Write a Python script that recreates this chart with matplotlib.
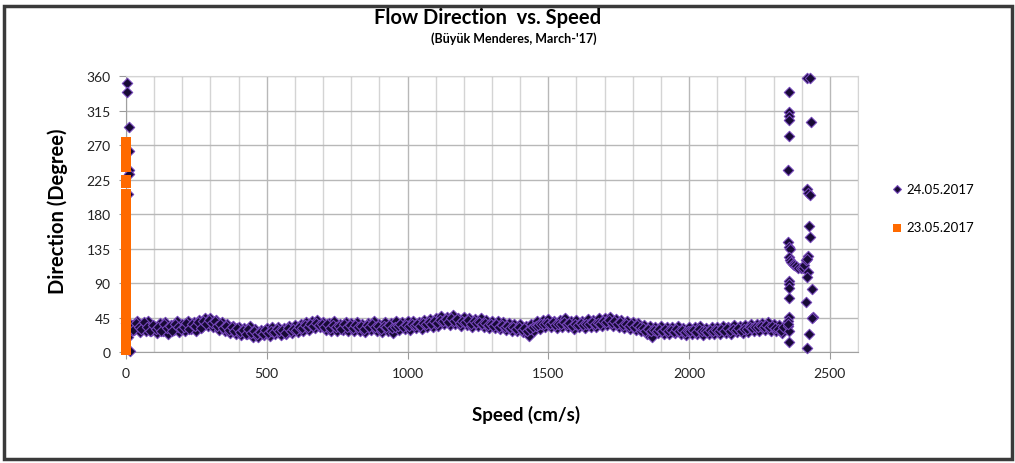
import matplotlib.pyplot as plt
from matplotlib.patches import Rectangle
from matplotlib.ticker import MultipleLocator

plt.rcParams["font.family"] = ["Lato", "DejaVu Sans"]

# 24.05.2017 - main band of readings (speed cm/s, direction deg)
band_speed = [
    0, 10, 20, 30, 40, 50, 60, 70, 80, 90,
    100, 110, 120, 130, 140, 150, 160, 170, 180, 190,
    200, 210, 220, 230, 240, 250, 260, 270, 280, 290,
    300, 310, 320, 330, 340, 350, 360, 370, 380, 390,
    400, 410, 420, 430, 440, 450, 460, 470, 480, 490,
    500, 510, 520, 530, 540, 550, 560, 570, 580, 590,
    600, 610, 620, 630, 640, 650, 660, 670, 680, 690,
    700, 710, 720, 730, 740, 750, 760, 770, 780, 790,
    800, 810, 820, 830, 840, 850, 860, 870, 880, 890,
    900, 910, 920, 930, 940, 950, 960, 970, 980, 990,
    1000, 1010, 1020, 1030, 1040, 1050, 1060, 1070, 1080, 1090,
    1100, 1110, 1120, 1130, 1140, 1150, 1160, 1170, 1180, 1190,
    1200, 1210, 1220, 1230, 1240, 1250, 1260, 1270, 1280, 1290,
    1300, 1310, 1320, 1330, 1340, 1350, 1360, 1370, 1380, 1390,
    1400, 1410, 1420, 1430, 1440, 1450, 1460, 1470, 1480, 1490,
    1500, 1510, 1520, 1530, 1540, 1550, 1560, 1570, 1580, 1590,
    1600, 1610, 1620, 1630, 1640, 1650, 1660, 1670, 1680, 1690,
    1700, 1710, 1720, 1730, 1740, 1750, 1760, 1770, 1780, 1790,
    1800, 1810, 1820, 1830, 1840, 1850, 1860, 1870, 1880, 1890,
    1900, 1910, 1920, 1930, 1940, 1950, 1960, 1970, 1980, 1990,
    2000, 2010, 2020, 2030, 2040, 2050, 2060, 2070, 2080, 2090,
    2100, 2110, 2120, 2130, 2140, 2150, 2160, 2170, 2180, 2190,
    2200, 2210, 2220, 2230, 2240, 2250, 2260, 2270, 2280, 2290,
    2300, 2310, 2320, 2330, 2340,
]
band_dir = [
    38, 25, 35, 29, 41, 26, 36, 28, 40, 27,
    34, 25, 38, 28, 39, 24, 35, 29, 40, 26,
    36, 27, 41, 30, 39, 28, 42, 32, 44, 34,
    45, 33, 42, 29, 39, 27, 36, 25, 34, 24,
    33, 22, 31, 23, 34, 20, 30, 19, 29, 22,
    31, 21, 32, 23, 33, 22, 31, 24, 34, 25,
    35, 26, 37, 28, 39, 29, 41, 31, 42, 32,
    39, 29, 38, 28, 40, 27, 37, 29, 39, 28,
    38, 27, 39, 28, 37, 26, 38, 29, 40, 28,
    37, 26, 39, 28, 38, 25, 40, 29, 39, 30,
    40, 29, 41, 31, 39, 30, 42, 32, 43, 33,
    45, 34, 47, 36, 46, 35, 48, 37, 45, 34,
    46, 35, 44, 33, 43, 34, 45, 32, 42, 31,
    41, 31, 40, 30, 39, 29, 38, 28, 37, 27,
    36, 26, 34, 21, 37, 28, 40, 30, 42, 32,
    43, 33, 41, 31, 42, 32, 44, 33, 41, 30,
    42, 32, 41, 31, 43, 33, 42, 32, 44, 34,
    45, 35, 46, 34, 43, 33, 42, 31, 40, 30,
    39, 29, 38, 28, 35, 23, 34, 20, 33, 25,
    34, 24, 33, 23, 32, 25, 34, 24, 31, 22,
    33, 23, 32, 24, 34, 22, 31, 23, 33, 24,
    32, 23, 34, 25, 33, 24, 35, 26, 34, 25,
    35, 26, 36, 27, 37, 28, 38, 29, 39, 28,
    37, 27, 35, 25, 31,
]

# 24.05.2017 - in-between readings that fill the band
band2_speed = [
    5, 15, 25, 35, 45, 55, 65, 75, 85, 95,
    105, 115, 125, 135, 145, 155, 165, 175, 185, 195,
    205, 215, 225, 235, 245, 255, 265, 275, 285, 295,
    305, 315, 325, 335, 345, 355, 365, 375, 385, 395,
    405, 415, 425, 435, 445, 455, 465, 475, 485, 495,
    505, 515, 525, 535, 545, 555, 565, 575, 585, 595,
    605, 615, 625, 635, 645, 655, 665, 675, 685, 695,
    705, 715, 725, 735, 745, 755, 765, 775, 785, 795,
    805, 815, 825, 835, 845, 855, 865, 875, 885, 895,
    905, 915, 925, 935, 945, 955, 965, 975, 985, 995,
    1005, 1015, 1025, 1035, 1045, 1055, 1065, 1075, 1085, 1095,
    1105, 1115, 1125, 1135, 1145, 1155, 1165, 1175, 1185, 1195,
    1205, 1215, 1225, 1235, 1245, 1255, 1265, 1275, 1285, 1295,
    1305, 1315, 1325, 1335, 1345, 1355, 1365, 1375, 1385, 1395,
    1405, 1415, 1425, 1435, 1445, 1455, 1465, 1475, 1485, 1495,
    1505, 1515, 1525, 1535, 1545, 1555, 1565, 1575, 1585, 1595,
    1605, 1615, 1625, 1635, 1645, 1655, 1665, 1675, 1685, 1695,
    1705, 1715, 1725, 1735, 1745, 1755, 1765, 1775, 1785, 1795,
    1805, 1815, 1825, 1835, 1845, 1855, 1865, 1875, 1885, 1895,
    1905, 1915, 1925, 1935, 1945, 1955, 1965, 1975, 1985, 1995,
    2005, 2015, 2025, 2035, 2045, 2055, 2065, 2075, 2085, 2095,
    2105, 2115, 2125, 2135, 2145, 2155, 2165, 2175, 2185, 2195,
    2205, 2215, 2225, 2235, 2245, 2255, 2265, 2275, 2285, 2295,
    2305, 2315, 2325, 2335,
]
band2_dir = [
    31, 36, 29, 38, 33, 30, 39, 32, 28, 35,
    30, 33, 28, 36, 31, 34, 27, 37, 32, 30,
    33, 38, 30, 36, 34, 39, 31, 40, 37, 42,
    38, 40, 34, 37, 31, 34, 29, 32, 27, 31,
    26, 29, 24, 30, 25, 27, 23, 26, 24, 29,
    25, 28, 26, 30, 27, 29, 25, 31, 28, 30,
    29, 33, 31, 35, 32, 36, 34, 38, 35, 37,
    33, 36, 31, 35, 32, 34, 30, 36, 33, 35,
    31, 35, 32, 34, 30, 35, 32, 36, 33, 34,
    30, 34, 32, 35, 31, 33, 34, 36, 33, 35,
    34, 36, 35, 37, 34, 38, 36, 39, 37, 40,
    38, 42, 40, 43, 39, 44, 41, 43, 38, 41,
    39, 42, 37, 40, 38, 39, 37, 38, 35, 37,
    34, 36, 33, 35, 32, 34, 31, 33, 30, 32,
    29, 31, 27, 30, 32, 34, 35, 37, 36, 38,
    36, 39, 35, 37, 36, 39, 37, 38, 34, 37,
    35, 38, 35, 37, 36, 39, 36, 38, 37, 40,
    39, 42, 38, 41, 37, 39, 35, 37, 34, 36,
    33, 35, 32, 31, 28, 30, 27, 29, 28, 30,
    28, 30, 27, 29, 26, 30, 28, 29, 26, 28,
    27, 29, 26, 30, 27, 28, 26, 29, 27, 29,
    27, 30, 28, 31, 28, 30, 29, 31, 28, 30,
    30, 32, 31, 33, 32, 34, 33, 35, 32, 34,
    31, 30, 28, 33,
]

# 24.05.2017 - scattered readings near zero and above 2300 cm/s
scatter_speed = [
    2, 2, 10, 12, 10, 12, 8, 14, 6,
    2354, 2356, 2356, 2354, 2356, 2350, 2352, 2356, 2358, 2354,
    2358, 2362, 2368, 2374, 2380, 2388, 2396, 2404, 2410, 2416,
    2356, 2356, 2354, 2356, 2354, 2352, 2354, 2354, 2352, 2350,
    2418, 2428, 2434, 2420, 2424, 2428, 2426, 2428, 2422, 2420,
    2424, 2420, 2436, 2414, 2440, 2436, 2426, 2420,
]
scatter_dir = [
    351, 339, 293, 262, 238, 232, 206, 1, 19,
    339, 313, 308, 302, 282, 238, 143, 137, 134, 124,
    120, 117, 115, 113, 112, 110, 109, 110, 114, 120,
    93, 89, 83, 70, 46, 34, 28, 13, 40, 36,
    358, 357, 300, 212, 208, 205, 164, 150, 125, 121,
    104, 98, 82, 65, 46, 44, 23, 5,
]

# 23.05.2017 - all readings at zero speed
orange_dir = [
    2, 8, 14, 20, 26, 32, 38, 44, 50, 56, 62, 68, 74, 80, 86, 92, 98,
    104, 110, 116, 122, 128, 134, 140, 146, 152, 158, 164, 170, 176,
    182, 188, 194, 200, 206, 220, 225,
    241, 247, 253, 259, 265, 271, 274,
]
orange_speed = [0] * len(orange_dir)

fig = plt.figure(figsize=(10.15, 4.64), dpi=100)
ax = fig.add_axes([0.1241, 0.2392, 0.7212, 0.5948])

dark_kw = dict(marker="D", s=28, facecolor="#170a35", edgecolor="#7446b8",
               linewidths=0.8, clip_on=False, zorder=3)
ax.scatter(band_speed, band_dir, label="24.05.2017", **dark_kw)
ax.scatter(band2_speed, band2_dir, **dark_kw)
ax.scatter(scatter_speed, scatter_dir, **dark_kw)
ax.scatter(orange_speed, orange_dir, marker="s", s=46, color="#ff6a00",
           linewidths=0, clip_on=False, zorder=4, label="23.05.2017")

ax.set_xlim(0, 2600)
ax.set_ylim(0, 360)
ax.xaxis.set_minor_locator(MultipleLocator(100))
ax.yaxis.set_major_locator(MultipleLocator(45))
ax.set_xticks([0, 500, 1000, 1500, 2000, 2500])
ax.grid(True, which="major", color="#b8b8b8", linewidth=1.0)
ax.grid(True, which="minor", axis="x", color="#d4d4d4", linewidth=1.0)
ax.set_axisbelow(True)
ax.tick_params(which="major", direction="out", length=5, color="#9a9a9a",
               labelsize=10, labelcolor="#222222", pad=6)
ax.tick_params(which="minor", length=0)
for side in ["top", "right"]:
    ax.spines[side].set_color("#d4d4d4")
for side in ["left", "bottom"]:
    ax.spines[side].set_color("#a0a0a0")

fig.text(488 / 1015, 1 - 18 / 464, "Flow Direction  vs. Speed",
         ha="center", va="center", fontsize=14.5, fontweight="bold")
fig.text(514 / 1015, 1 - 39 / 464, "(Büyük Menderes, March-'17)",
         ha="center", va="center", fontsize=9, fontweight="bold")
fig.text(58 / 1015, 1 - 211 / 464, "Direction (Degree)", rotation=90,
         ha="center", va="center", fontsize=14.5, fontweight="bold")
fig.text(526 / 1015, 1 - 415 / 464, "Speed (cm/s)",
         ha="center", va="center", fontsize=13.5, fontweight="bold")

leg = fig.legend(loc="upper left", bbox_to_anchor=(880 / 1015, 1 - 172 / 464),
                 frameon=False, fontsize=9.5, labelspacing=2.0,
                 handlelength=0.8, handletextpad=0.3, markerscale=0.75)

fig.add_artist(Rectangle((4 / 1015, 4 / 464), 1008 / 1015, 453 / 464,
                         transform=fig.transFigure, fill=False,
                         edgecolor="#3a3a3a", linewidth=2.5))

fig.savefig("out.png", dpi=100)
